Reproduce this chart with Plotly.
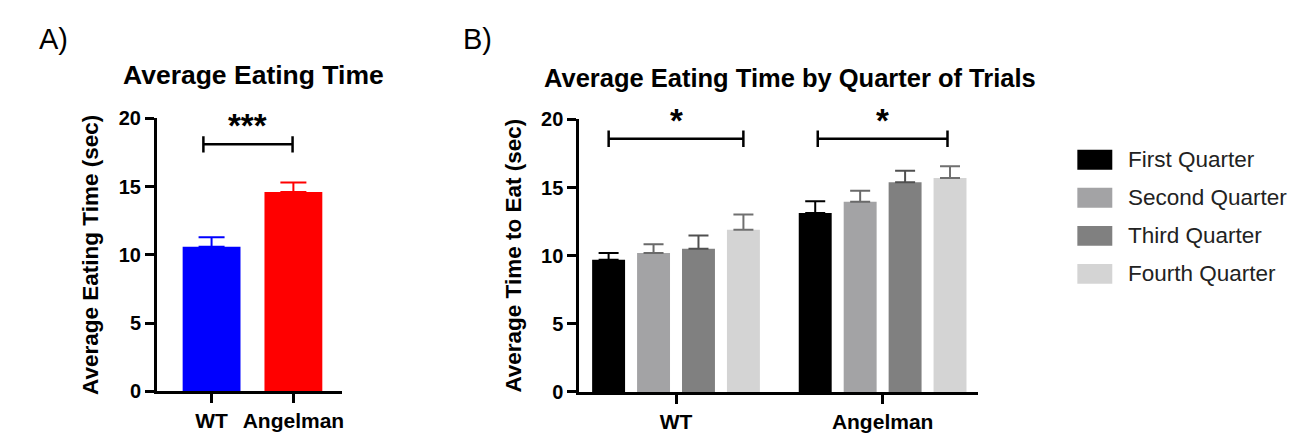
import plotly.graph_objects as go

W, H = 1303, 447

# ---------------- data ----------------
groups_a = ["WT", "Angelman"]
means_a = [10.6, 14.6]
sem_a = [0.7, 0.7]
colors_a = ["#0000ff", "#ff0000"]

groups_b = ["WT", "Angelman"]
quarters = ["First Quarter", "Second Quarter", "Third Quarter", "Fourth Quarter"]
means_b = {
    "First Quarter": [9.7, 13.13],
    "Second Quarter": [10.2, 13.96],
    "Third Quarter": [10.5, 15.38],
    "Fourth Quarter": [11.9, 15.7],
}
sem_b = {
    "First Quarter": [0.5, 0.87],
    "Second Quarter": [0.63, 0.81],
    "Third Quarter": [0.98, 0.86],
    "Fourth Quarter": [1.13, 0.86],
}
colors_b = ["#000000", "#a3a3a5", "#808080", "#d4d4d4"]
errcolors_b = ["#000000", "#6a6a6a", "#505050", "#707070"]

yticks = [0, 5, 10, 15, 20]

FONT = "Arial, Liberation Sans, Helvetica, sans-serif"

def px(x):
    return x / W

def py(y):
    return 1 - y / H

fig = go.Figure()

# Panel A bars
for g, m, s, c in zip(groups_a, means_a, sem_a, colors_a):
    fig.add_trace(go.Bar(
        x=[g], y=[m], xaxis="x", yaxis="y",
        width=0.707, offset=-0.3535,
        marker=dict(color=c, line=dict(width=0)),
        error_y=dict(type="data", array=[s], arrayminus=[0], symmetric=False,
                     color=c, thickness=2, width=13),
        showlegend=False,
    ))

# Panel B bars
for q, c, ec in zip(quarters, colors_b, errcolors_b):
    fig.add_trace(go.Bar(
        x=groups_b, y=means_b[q], xaxis="x2", yaxis="y2", name=q,
        marker=dict(color=c, line=dict(width=0)),
        error_y=dict(type="data", array=sem_b[q], arrayminus=[0, 0], symmetric=False,
                     color=ec, thickness=2, width=10),
        showlegend=False,
    ))

def axis_common(size):
    return dict(
        showline=True, linecolor="black", linewidth=2.5,
        ticks="outside", ticklen=9, tickwidth=2.5, tickcolor="black",
        showgrid=False, zeroline=False,
        tickfont=dict(family=FONT, size=size, color="black", weight="bold"),
    )

title_font = dict(family=FONT, size=22.5, color="black", weight="bold")

fig.update_layout(
    width=W, height=H,
    margin=dict(l=0, r=0, t=0, b=0),
    paper_bgcolor="white", plot_bgcolor="white",
    barmode="group", bargap=0.13, bargroupgap=0.267,
    showlegend=False,
    xaxis=dict(domain=[px(157), px(343)], anchor="y", type="category",
               range=[-0.67, 1.6], **axis_common(21)),
    yaxis=dict(domain=[py(400), py(113)], anchor="x", range=[0, 20],
               tickvals=yticks,
               title=dict(text="Average Eating Time (sec)", standoff=14, font=title_font),
               **axis_common(20)),
    xaxis2=dict(domain=[px(580), px(980)], anchor="y2", type="category",
                range=[-0.469, 1.464], **axis_common(21)),
    yaxis2=dict(domain=[py(400.7), py(114)], anchor="x2", range=[0, 20],
                tickvals=yticks,
                title=dict(text="Average Time to Eat (sec)", standoff=14, font=title_font),
                **axis_common(20)),
)

shapes = []
annotations = []

def bracket(xref, yref, x0, x1, y, dy):
    lw = 2.5
    shapes.append(dict(type="line", xref=xref, yref=yref, x0=x0, x1=x1, y0=y, y1=y,
                       line=dict(color="black", width=lw)))
    for xx in (x0, x1):
        shapes.append(dict(type="line", xref=xref, yref=yref, x0=xx, x1=xx,
                           y0=y - dy, y1=y + dy, line=dict(color="black", width=lw)))

star_font = dict(family=FONT, size=33, color="black", weight="bold")

bracket("x", "y", -0.10, 0.99, 18.1, 0.6)
annotations.append(dict(xref="x", yref="y", x=0.445, y=19.5, text="***",
                        showarrow=False, yanchor="middle", font=star_font))
bracket("x2", "y2", -0.326, 0.326, 18.58, 0.6)
bracket("x2", "y2", 0.686, 1.314, 18.58, 0.6)
for cx in (0, 1):
    annotations.append(dict(xref="x2", yref="y2", x=cx, y=19.95, text="*",
                            showarrow=False, yanchor="middle", font=star_font))

# Titles and panel letters
annotations.append(dict(xref="paper", yref="paper", x=px(253.5), y=py(67), text="Average Eating Time",
                        showarrow=False, xanchor="center", yanchor="middle",
                        font=dict(family=FONT, size=26.5, color="black", weight="bold")))
annotations.append(dict(xref="paper", yref="paper", x=px(791), y=py(70),
                        text="Average Eating Time by Quarter of Trials",
                        showarrow=False, xanchor="center", yanchor="middle",
                        font=dict(family=FONT, size=25.5, color="black", weight="bold")))
annotations.append(dict(xref="paper", yref="paper", x=px(37), y=py(29), text="A)",
                        showarrow=False, xanchor="left", yanchor="middle",
                        font=dict(family=FONT, size=29, color="black")))
annotations.append(dict(xref="paper", yref="paper", x=px(462), y=py(29), text="B)",
                        showarrow=False, xanchor="left", yanchor="middle",
                        font=dict(family=FONT, size=29, color="black")))

# Legend (drawn manually)
for i, (q, c) in enumerate(zip(quarters, colors_b)):
    yc = 156.5 + 40 * i
    shapes.append(dict(type="rect", xref="paper", yref="paper",
                       x0=px(1079), x1=px(1114), y0=py(yc + 10.5), y1=py(yc - 10.5),
                       fillcolor=c, line=dict(width=0)))
    annotations.append(dict(xref="paper", yref="paper", x=px(1128), y=py(yc), text=q,
                            showarrow=False, xanchor="left", yanchor="middle",
                            font=dict(family=FONT, size=22.5, color="#222222")))

fig.update_layout(shapes=shapes, annotations=annotations)

fig.write_html("out.html")
